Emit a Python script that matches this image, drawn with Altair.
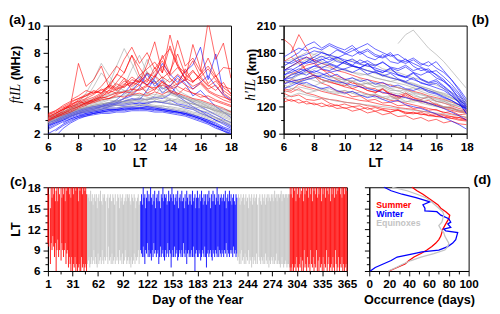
import altair as alt
import pandas as pd

# ---------------- shared local-time grid (half-hourly) ----------------
LT = [6.0, 6.5, 7.0, 7.5, 8.0, 8.5, 9.0, 9.5, 10.0, 10.5, 11.0, 11.5, 12.0,
      12.5, 13.0, 13.5, 14.0, 14.5, 15.0, 15.5, 16.0, 16.5, 17.0, 17.5, 18.0]
N = None

# ---------------- panel (a): ftIL (MHz) ----------------
A_RED = [
    [3.2,3.4,3.6,3.9,4.1,4.3,4.4,4.6,4.8,5.0,5.1,5.3,5.2,5.5,5.4,5.6,5.3,5.5,5.2,5.0,4.9,4.6,4.4,4.2,4.0],
    [3.0,3.3,3.7,4.2,7.2,5.5,6.0,7.0,5.4,6.4,6.1,5.2,5.6,5.0,5.3,5.8,5.1,4.9,5.4,5.0,4.7,4.8,4.5,4.3,4.1],
    [N,3.5,3.8,4.0,4.3,4.5,4.7,5.0,5.6,6.3,7.5,8.4,7.2,8.0,6.8,7.6,8.3,7.0,6.5,7.4,6.2,6.8,6.0,5.5,5.3],
    [3.4,3.6,3.9,4.1,4.4,4.2,4.6,4.9,5.2,5.0,5.6,6.2,5.8,7.1,8.8,6.5,9.3,7.2,6.0,8.6,6.8,5.7,6.3,5.0,4.6],
    [N,N,3.9,4.2,4.4,4.6,4.9,5.3,5.0,5.7,5.4,6.0,5.8,6.5,6.2,7.8,6.4,8.9,7.0,7.6,6.6,10.3,7.5,8.7,6.1],
    [3.1,3.3,3.5,3.8,4.0,4.2,4.3,4.5,4.6,4.8,4.7,4.9,5.0,4.8,5.1,4.9,5.2,5.0,4.8,4.6,4.5,4.3,4.1,3.9,3.6],
    [N,N,N,4.5,4.8,5.2,5.0,5.5,6.2,7.0,6.5,7.8,6.9,6.0,6.6,7.4,6.3,6.9,6.1,5.8,6.4,7.0,6.2,6.9,6.8],
    [3.3,3.5,3.8,4.0,4.2,4.4,4.5,4.7,4.6,4.9,5.1,5.0,5.3,5.6,5.2,5.9,5.4,5.7,6.0,5.5,5.8,5.2,4.9,4.7,4.5],
    [3.0,3.2,3.4,3.6,3.9,4.1,4.4,4.7,5.2,5.8,6.5,7.8,6.3,6.8,7.3,6.5,8.5,7.0,6.1,6.7,5.9,5.3,5.6,4.8,4.4],
    [3.5,3.7,4.0,4.3,4.6,4.8,5.0,5.2,5.5,5.3,5.9,5.6,6.3,5.8,6.9,6.1,6.6,7.9,6.4,5.9,6.2,5.6,5.2,5.8,4.9],
    [3.2,3.5,3.8,4.1,4.5,4.8,5.2,5.0,5.6,5.4,6.1,5.7,6.0,5.6,6.3,5.8,5.5,6.1,5.6,5.3,5.7,5.1,4.8,4.5,4.3],
    [2.9,3.2,3.5,3.7,4.0,4.3,4.5,4.8,5.0,5.3,5.5,5.8,5.6,6.0,5.7,6.2,5.8,6.4,5.9,6.6,6.1,5.5,5.9,5.2,4.8],
    [3.4,3.7,4.1,4.4,4.6,4.9,5.1,5.0,5.4,5.2,5.7,5.5,5.9,5.6,6.2,7.0,6.1,5.6,6.8,5.8,6.4,7.6,6.3,5.4,5.0],
]
A_GRAY = [
    [3.0,3.2,3.4,3.6,3.8,3.9,4.0,4.1,4.2,4.2,4.3,4.3,4.4,4.3,4.4,4.3,4.2,4.1,4.0,3.9,3.7,3.6,3.4,3.2,3.0],
    [2.9,3.1,3.3,3.5,3.7,3.8,3.9,4.0,4.1,4.1,4.2,4.2,4.1,4.2,4.1,4.0,4.0,3.9,3.8,3.6,3.5,3.3,3.2,3.0,2.8],
    [3.1,3.4,3.6,3.9,4.2,4.6,5.5,6.5,5.8,5.2,5.0,4.8,4.9,4.7,4.6,4.8,4.5,4.4,4.3,4.2,4.0,3.9,3.7,3.5,3.3],
    [3.2,3.3,3.6,3.8,4.0,4.3,4.5,4.8,5.6,7.0,8.3,7.2,6.0,7.5,6.3,5.4,5.0,4.8,4.6,4.4,4.2,4.0,3.8,3.6,3.4],
    [2.8,3.0,3.2,3.4,3.6,3.7,3.8,3.9,4.0,4.1,4.0,4.1,4.2,4.1,4.0,4.1,3.9,3.8,3.7,3.5,3.4,3.2,3.1,2.9,2.7],
    [3.0,3.3,3.5,3.7,3.9,4.1,4.2,4.3,4.5,4.4,4.6,4.5,4.7,4.5,4.6,4.4,4.5,4.3,4.2,4.0,3.9,3.7,3.5,3.3,3.1],
    [N,3.2,3.5,3.8,4.0,4.2,4.4,4.6,4.8,5.1,5.5,6.8,7.8,6.5,5.7,6.2,5.1,4.8,4.6,4.3,4.1,3.9,3.6,3.4,3.2],
    [3.1,3.3,3.5,3.7,3.8,4.0,4.1,4.2,4.3,4.4,4.4,4.5,4.4,4.6,4.5,4.7,4.4,4.6,4.3,4.2,4.0,3.9,3.7,3.5,3.4],
    [2.9,3.1,3.4,3.6,3.8,4.0,4.1,4.2,4.3,4.5,4.3,4.4,4.6,4.5,4.8,5.6,6.1,5.2,4.9,4.6,4.3,4.0,3.8,3.6,3.5],
    [3.2,3.4,3.7,3.9,4.1,4.3,4.4,4.5,4.6,4.7,4.8,4.9,4.8,5.0,4.9,4.8,4.9,4.7,4.6,4.4,4.3,4.1,3.9,3.7,3.6],
    [3.3,3.5,3.8,4.0,4.2,4.4,4.6,4.7,4.9,5.0,5.2,5.1,5.3,5.2,5.4,5.1,5.0,4.9,4.7,4.5,4.4,4.2,4.0,3.8,3.7],
    [2.7,2.9,3.1,3.3,3.5,3.6,3.7,3.8,3.9,3.9,4.0,4.0,4.0,4.1,4.0,3.9,3.8,3.7,3.6,3.4,3.3,3.1,2.9,2.8,2.6],
    [3.0,3.2,3.5,3.8,4.3,5.0,6.0,7.2,6.3,5.5,5.2,5.0,4.8,4.9,4.7,4.8,4.6,4.5,4.4,4.2,4.1,3.9,3.7,3.6,3.4],
    [3.1,3.3,3.6,3.8,4.0,4.2,4.3,4.4,4.6,4.7,4.9,5.3,6.0,6.6,5.8,5.4,5.2,5.0,4.7,4.5,4.4,4.2,4.0,3.8,3.6],
    [2.8,3.1,3.3,3.6,3.8,3.9,4.1,4.2,4.3,4.3,4.4,4.4,4.5,4.4,4.3,4.4,4.3,4.1,4.0,3.8,3.6,3.4,3.2,3.0,2.9],
]
A_BLUE = [
    [2.3,2.6,2.9,3.1,3.3,3.4,3.5,3.6,3.6,3.7,3.7,3.8,3.8,3.8,3.7,3.7,3.6,3.5,3.4,3.2,3.0,2.8,2.6,2.4,2.1],
    [N,2.2,2.6,2.9,3.2,3.4,3.5,3.6,3.7,3.7,3.8,3.8,3.9,3.8,3.8,3.7,3.6,3.6,3.4,3.3,3.1,2.9,2.6,2.3,N],
    [2.6,2.9,3.1,3.3,3.5,3.6,3.7,3.8,3.9,3.9,4.0,4.0,4.1,4.0,4.0,3.9,3.8,3.7,3.6,3.4,3.2,3.0,2.8,2.5,2.3],
    [2.8,3.0,3.2,3.4,3.6,3.8,3.9,4.0,4.1,4.3,4.6,5.2,5.8,6.4,5.5,6.0,5.1,4.8,4.4,4.0,3.7,3.3,3.0,2.7,2.4],
    [2.5,2.8,3.0,3.3,3.5,3.6,3.7,3.8,4.0,4.2,4.4,4.6,4.5,5.2,6.1,7.2,6.4,5.8,6.6,7.1,8.4,6.0,7.9,5.0,N],
    [2.9,3.1,3.3,3.5,3.7,3.8,3.9,4.0,4.1,4.2,4.2,4.3,4.2,4.3,4.4,4.3,4.5,4.2,4.1,3.9,3.7,3.5,3.2,2.9,2.6],
    [N,N,2.8,3.1,3.3,3.5,3.6,3.7,3.8,3.8,3.9,3.9,3.9,3.9,3.8,3.8,3.7,3.6,3.5,3.3,3.1,2.8,2.5,2.2,1.9],
    [2.7,2.9,3.2,3.4,3.6,3.7,3.8,4.0,4.2,4.5,5.0,5.7,6.2,5.6,5.9,5.0,5.5,6.3,5.7,4.8,5.2,4.6,4.0,3.6,3.2],
    [3.0,3.2,3.4,3.6,3.8,3.9,4.0,4.1,4.2,4.3,4.4,4.5,4.6,4.5,4.7,4.6,4.9,5.6,6.0,5.3,5.8,6.3,5.5,4.9,4.5],
    [2.4,2.7,3.0,3.2,3.4,3.5,3.6,3.7,3.8,3.8,3.9,3.9,3.9,4.0,3.9,3.8,3.7,3.6,3.5,3.4,3.2,3.0,2.7,2.4,2.2],
    [2.0,2.3,2.7,3.0,3.2,3.3,3.4,3.5,3.5,3.6,3.6,3.7,3.7,3.7,3.6,3.6,3.5,3.4,3.3,3.1,2.9,2.7,2.4,2.2,2.0],
    [2.6,2.8,3.1,3.3,3.5,3.7,3.8,3.9,4.0,4.1,4.1,4.2,4.3,4.2,4.4,4.3,4.2,4.1,3.9,3.8,3.5,3.3,3.0,2.8,2.5],
    [N,1.8,2.4,2.8,3.1,3.3,3.5,3.6,3.7,3.8,3.8,3.9,3.9,3.9,3.9,3.8,3.7,3.6,3.5,3.3,3.1,2.9,2.6,2.3,2.0],
    [2.8,3.0,3.3,3.5,3.7,3.9,4.0,4.1,4.3,4.4,4.6,4.8,5.4,6.5,5.9,5.3,5.6,4.9,4.6,4.3,4.0,3.7,3.4,3.1,2.8],
]

# ---------------- panel (b): h'IL (km) ----------------
B_RED = [
    [135,131,133,128,127,129,124,121,123,120,121,117,119,116,114,117,113,112,114,110,111,108,109,106,105],
    [195,188,172,160,154,146,143,137,136,131,132,127,128,124,125,121,122,118,119,116,117,113,115,111,112],
    [150,156,160,166,168,161,159,154,151,146,145,141,140,135,135,131,131,127,127,123,123,119,119,115,114],
    [140,138,145,142,140,137,135,133,131,129,127,126,124,122,121,119,118,117,115,114,112,111,109,108,106],
    [N,180,200,185,170,162,155,150,146,140,137,134,132,130,127,126,124,122,120,118,116,114,112,110,108],
    [145,150,148,152,155,150,147,145,143,148,142,138,136,140,134,130,133,128,125,127,122,120,118,116,115],
    [130,126,128,123,124,120,122,118,119,115,117,113,115,111,113,109,110,106,108,104,106,102,104,101,100],
    [160,165,170,175,172,168,165,160,158,155,152,150,148,146,144,141,139,137,135,132,130,128,125,122,120],
    [138,136,140,135,133,130,128,127,125,124,123,121,120,118,117,116,114,113,112,110,109,108,107,105,104],
    [N,N,N,N,N,N,N,N,N,N,N,N,135,140,132,128,135,130,126,124,121,118,116,114,113],
    [125,128,124,126,122,124,120,122,118,120,117,119,115,117,114,116,112,114,111,112,109,110,107,108,105],
    [170,175,168,160,155,150,148,145,142,140,143,138,136,139,134,132,135,130,128,131,126,124,121,118,116],
]
B_GRAY = [
    [150,156,158,162,157,156,152,152,149,149,145,146,142,142,138,138,134,134,130,130,126,126,122,122,118],
    [140,145,150,152,149,146,150,147,144,142,145,141,138,140,136,134,137,132,130,128,126,124,122,120,118],
    [160,165,168,172,175,170,167,172,168,165,162,160,157,154,152,150,147,145,142,140,137,135,132,128,125],
    [145,140,138,135,137,139,136,134,138,135,132,134,130,128,131,127,125,128,124,122,120,119,117,115,112],
    [N,150,160,170,178,182,176,172,168,165,163,160,158,156,153,150,148,146,143,140,137,134,130,126,122],
    [155,152,148,145,143,147,150,146,148,152,149,145,147,143,140,142,138,136,134,131,129,127,125,122,120],
    [150,147,147,143,143,139,140,137,138,135,136,133,134,131,132,129,130,127,128,124,124,120,120,116,116],
    [165,170,175,173,170,168,166,163,160,158,157,155,152,150,148,146,144,141,139,137,135,132,129,126,123],
    [N,N,N,N,N,N,N,N,N,N,N,N,N,N,N,190,200,205,195,185,178,170,160,150,140],
    [130,132,135,133,131,129,128,126,125,124,123,122,121,120,119,118,117,116,115,114,113,112,111,110,108],
    [145,150,155,158,162,165,163,160,162,158,155,156,152,150,148,150,146,143,141,138,136,133,130,127,124],
    [135,140,142,140,138,141,137,136,134,137,133,131,134,130,128,130,126,125,127,123,121,120,118,116,114],
    [170,172,176,180,178,175,178,174,170,172,168,165,167,162,160,158,155,152,150,147,144,140,136,131,127],
    [150,145,148,150,153,150,147,150,146,148,144,146,142,144,140,137,139,135,133,131,128,126,123,120,118],
    [160,158,155,158,155,152,155,151,150,148,151,147,145,143,145,141,139,141,137,134,132,129,126,123,120],
]
B_BLUE = [
    [165,170,175,178,182,180,177,183,179,176,181,175,172,178,170,168,173,165,160,162,155,148,140,130,118],
    [155,160,165,170,168,172,175,170,168,165,163,167,161,158,162,156,153,158,151,147,150,143,136,128,120],
    [N,175,180,188,192,185,190,186,183,188,180,184,178,175,180,172,170,174,168,165,170,160,150,138,125],
    [160,162,158,155,160,157,153,156,150,152,148,150,145,147,142,144,140,138,141,136,134,130,127,122,118],
    [150,155,158,162,165,168,170,174,178,182,186,190,184,180,176,178,172,168,164,160,156,150,140,128,115],
    [145,148,150,152,155,153,150,148,146,144,142,140,138,136,134,132,130,128,126,124,121,118,114,110,105],
    [N,N,165,170,175,180,177,175,172,170,167,165,163,160,158,155,153,150,147,144,141,138,132,125,118],
    [170,168,172,175,170,173,168,165,170,166,163,168,160,158,163,155,152,157,150,146,148,142,135,125,112],
    [140,143,147,150,152,155,158,160,162,165,163,160,158,155,152,150,147,144,141,138,135,131,127,122,117],
    [150,148,145,147,143,140,142,138,135,137,133,130,132,128,125,127,122,120,118,115,112,108,104,100,95],
    [175,180,185,182,186,183,188,184,180,185,178,182,176,174,178,171,168,172,166,170,163,158,150,140,128],
    [160,165,170,168,172,176,172,175,170,173,168,171,166,169,164,162,166,160,163,158,160,153,145,135,122],
    [150,152,156,160,158,162,160,164,161,158,162,156,159,154,157,151,148,152,146,144,146,140,133,124,112],
    [155,158,162,160,165,163,167,164,170,166,172,168,165,170,163,160,164,158,155,159,152,148,142,133,120],
]

# ---------------- panel (c): daily LT span of IL occurrence ----------------
SEASON_SPANS = [("Summer", 1, 48), ("Equinoxes", 49, 113), ("Winter", 114, 231),
                ("Equinoxes", 232, 295), ("Summer", 296, 365)]
C_START = [
    # Summer, days 1-48
    10,9.5,N,7,10,9,11,9.5,8,10,  6,9,10.5,8,9,N,7.5,10,9,8,
    9,10,7,8.5,9,6.5,8,7,6,8,     6,7,6.5,8,6,7,6,6.5,7,6,
    6,8,6.5,7,6,6.5,7,6,
    # Equinoxes, days 49-113
    7,7.5,8,6.5,7,8,7,7.5,9,7,    8,7,6.5,8.5,7,7.5,8,7,9,7.5,
    7,8,7.5,N,8,7,9.5,7.5,8,7,    8.5,7,7.5,8,7,N,7.5,8,7,9,
    7.5,8,7,8.5,7,7.5,9,8,7,7.5,  8,7,7.5,6.5,8,7,7.5,8.5,7,8,
    7.5,8,9,7,8,
    # Winter, days 114-231
    9,8.5,8,9.5,8,7,9,8.5,10,8,   9,8,8.5,7.5,9,8,10,8.5,9,8,
    8.5,9,7,8,9.5,8,8.5,9,8,7.5,  9,8,8.5,10,8,9,8.5,6.5,8,9,
    8,9.5,8,8.5,9,7.5,8,9,8.5,8,  9,8,10,8.5,8,9,7,8.5,9,8,
    8.5,8,9,8,9.5,8,6,8.5,9,8,    8,9,8.5,7.5,8,9,8.5,8,9.5,8,
    6.5,8.5,9,8,8.5,9,8,7.5,9,8.5, 8,9,8.5,8,9.5,8,9,8.5,8,9,
    8.5,8,9,8.5,10,8,9,8.5,8,9,   8.5,9,8,9.5,8.5,9,8,8.5,
    # Equinoxes, days 232-295
    7.5,8,7,8.5,7,9,7.5,8,7,8.5,  7,8,7.5,9,7,8,7.5,6.5,8,7,
    8,7.5,7,8.5,7,N,8,7.5,7,8,    7.5,7,8,7,8.5,7.5,7,8,6.5,7.5,
    7,8,7.5,7,8,7,7.5,8.5,7,7,    7.5,7,6.5,7,8,7,6.5,7,7.5,7,
    6.5,7,7,6.5,
    # Summer, days 296-365
    6,6.5,6,7,6,6.5,7,6,8,6.5,    6,7,6.5,8,6,7.5,6,9,6.5,7,
    6,8,6.5,7,6,9,7,6.5,8,6,      7,6.5,9,6,7.5,6,8,6.5,7,6,
    8,6,7,6.5,9,6,7,8,6,6.5,      7,6,8,6.5,6,9,7,6,6.5,8,
    6,7,6.5,8,6,7,6,6.5,7,6,
]
C_END = [
    18,17,N,15,18,16.5,18,17,18,16,  17.5,18,16,18,17,N,18,16.5,18,17,
    18,16,18,17.5,18,18,17,18,16.5,18, 18,17,18,18,17.5,18,18,16,18,17.5,
    18,18,17,18,18,17.5,18,17,
    17,16.5,17,16,17.5,16,17,15.5,16.5,17, 16,17,15,16.5,17,16,17.5,16,15.5,17,
    16.5,17,16,N,16.5,17,15,16.5,17,16,    16,17,16.5,15.5,17,N,16,17,16.5,15,
    17,16,16.5,17,15.5,16,16.5,17,16,17,   16.5,17,16,15.5,17,16.5,16,17,16.5,15,
    16,16.5,17,15.5,16,
    16,17,15.5,18,16.5,17,15,16.5,17.5,16, 17,16,18,16.5,15.5,17,16,17.5,15,16.5,
    17,16,17.5,16,15,17,16.5,18,16,17,     16.5,17,15.5,16,17.5,16,17,16.5,18,16,
    17,15.5,16.5,17,16,17.5,15,16.5,17,16, 17.5,16,16.5,15,17,16,17.5,16.5,15.5,17,
    16,17,15.5,17.5,16,16.5,17,15,16.5,17.5, 16.5,15,17,16,17.5,16.5,15.5,17,16,17,
    15.5,17,16,17.5,16.5,15,17,16,17.5,16, 17,15.5,16.5,18,16,17,15.5,16.5,17,16,
    16.5,17,16,17.5,15,16.5,17,16,17.5,16, 17,15.5,16.5,17,16,15.5,17,16.5,
    16,17,16.5,15.5,17,16,16.5,17,15.5,16.5, 17,16,16.5,15,17,16.5,16,17,15.5,16.5,
    17,16,16.5,17,15.5,N,16.5,17,16,15.5,  17,16.5,16,17,15.5,16.5,17,16,17,16.5,
    16,17,16.5,17,16,17.5,16.5,17,16,17,   17,16.5,17,17.5,16,17,17,16.5,17,17,
    17,16.5,17,17,
    18,17,18,16.5,18,17.5,18,16,18,17,     18,16.5,18,17,17.5,18,16,18,17,18,
    17.5,18,16.5,18,18,17,18,16,18,17.5,   18,17,18,16.5,18,17,18,18,16,18,
    17,18,18,16.5,18,17.5,18,17,18,16,     18,17,18,18,16.5,18,17,18,17.5,18,
    18,17,18,16.5,18,18,17,18,18,17.5,
]

# ---------------- panel (d): occurrence (days) per LT ----------------
D_SUMMER_LT = LT
D_SUMMER = [20,28,36,40,45,52,58,63,67,70,72,73,74,76,78,80,81,77,72,69,64,59,54,48,43]
D_WINTER_LT = [6.0,6.5,7.0,7.5,8.0,8.5,8.75,9.0,9.5,10.0,10.5,11.0,11.5,11.75,12.0,
               12.25,12.75,13.0,13.5,14.0,14.5,14.6,15.0,15.5,15.9,16.5,17.0,17.5,18.0]
D_WINTER = [1,6,14,22,28,45,53,70,79,84,87,88,89,77,75,82,79,82,80,72,68,56,56,54,61,47,33,22,15]
D_EQUI_LT = LT
D_EQUI = [19,27,34,42,52,65,76,79,80,78,76,75,72,70,73,74,75,74,70,66,62,57,48,38,23]

LEGEND_LABELS = ["Summer", "Winter", "Equinoxes"]
LEGEND_OCC = [7, 7, 7]
LEGEND_LT = [15.5, 14.15, 12.8]

# ---------------- axis ticks ----------------
HOURS = [6, 7, 8, 9, 10, 11, 12, 13, 14, 15, 16, 17, 18]
HOURS_EVEN = [6, 8, 10, 12, 14, 16, 18]
HOURS_3 = [6, 9, 12, 15, 18]
FT_TICKS = [2, 3, 4, 5, 6, 7, 8, 9, 10]
FT_MAJOR = [2, 4, 6, 8, 10]
H_TICKS = [90, 105, 120, 135, 150, 165, 180, 195, 210]
H_MAJOR = [90, 120, 150, 180, 210]
DAY_MAJOR = [1, 31, 62, 92, 122, 153, 183, 213, 244, 274, 304, 335, 365]
DAY_MINOR = [16, 46.5, 77, 107, 137.5, 168, 198, 228.5, 259, 289, 319.5, 350]
OCC_TICKS = [0, 10, 20, 30, 40, 50, 60, 70, 80, 90, 100]
OCC_MAJOR = [0, 20, 40, 60, 80, 100]

RED, BLUE, GRAY_LINE, GRAY_BAR = "#ff0000", "#0000ff", "#a0a0a0", "#c4c4c4"


def tick_axis(values, major, show_labels=True, **kw):
    test = "indexof(%s, datum.value) >= 0" % str(list(major))
    args = dict(values=list(values),
                tickSize={"condition": {"test": test, "value": 5}, "value": 3},
                labels=show_labels)
    if show_labels:
        args["labelExpr"] = "%s ? datum.label : ''" % test
    args.update(kw)
    return alt.Axis(**args)


def lines_df(series, name):
    rows = []
    for i, vals in enumerate(series):
        for t, v in zip(LT, vals):
            if v is not None:
                rows.append({"lt": t, "v": v, "id": "%s%d" % (name, i)})
    return pd.DataFrame(rows)


def line_panel(groups, ydom, yticks, ymajor, unit, var, unit_y, var_y, title_x, title_params):
    x_enc = alt.X("lt:Q", scale=alt.Scale(domain=[6, 18], nice=False, zero=False),
                  axis=tick_axis(HOURS, HOURS_EVEN, title="LT", titlePadding=5))
    y_enc = alt.Y("v:Q", scale=alt.Scale(domain=ydom, nice=False, zero=False),
                  axis=tick_axis(yticks, ymajor, title=unit, titleX=title_x, titleY=unit_y,
                                 titleAngle=270, titleBaseline="bottom", titleAlign="center"))
    layers = []
    for series, name, color in groups:
        layers.append(
            alt.Chart(lines_df(series, name)).mark_line(
                stroke=color, strokeWidth=0.8, opacity=0.75, clip=True
            ).encode(x=x_enc, y=y_enc, detail="id:N")
        )
    italic = alt.Chart(pd.DataFrame({"t": [var]})).mark_text(
        angle=270, baseline="bottom", align="center", font="Liberation Serif",
        fontStyle="italic", fontSize=14, color="black"
    ).encode(text="t:N", x=alt.value(title_x), y=alt.value(var_y))
    layers.append(italic)
    return alt.layer(*layers).properties(width=188, height=111, title=title_params)


panel_a = line_panel(
    [(A_BLUE, "w", BLUE), (A_GRAY, "e", GRAY_LINE), (A_RED, "s", RED)],
    [2, 10], FT_TICKS, FT_MAJOR, "(MHz)", "ftIL", 38, 70, -26,
    alt.TitleParams("(a)", anchor="start", frame="bounds", fontSize=14, offset=-7),
)
panel_b = line_panel(
    [(B_RED, "s", RED), (B_GRAY, "e", GRAY_LINE), (B_BLUE, "w", BLUE)],
    [90, 210], H_TICKS, H_MAJOR, "(km)", "h'IL", 37, 66, -26,
    alt.TitleParams("(b)", anchor="end", frame="group", fontSize=14, offset=-7, dx=23),
)

# ---- panel (c)
c_rows = []
for season, d0, d1 in SEASON_SPANS:
    for day in range(d0, d1 + 1):
        s, e = C_START[day - 1], C_END[day - 1]
        if s is not None and e is not None:
            c_rows.append({"day": day, "start": s, "end": e, "season": season})
c_df = pd.DataFrame(c_rows)

season_scale_c = alt.Scale(domain=["Summer", "Winter", "Equinoxes"], range=[RED, BLUE, GRAY_BAR])
panel_c = alt.Chart(c_df).mark_rule(strokeWidth=0.9).encode(
    x=alt.X("day:Q", scale=alt.Scale(domain=[1, 365], nice=False, zero=False),
            axis=tick_axis(sorted(DAY_MAJOR + DAY_MINOR), DAY_MAJOR, title="Day of the Year",
                           titlePadding=4)),
    y=alt.Y("start:Q", scale=alt.Scale(domain=[6, 18], nice=False, zero=False),
            axis=tick_axis(HOURS, HOURS_3, title="LT", titleX=-26, titleY=43,
                           titleAngle=270, titleBaseline="bottom", titleAlign="center")),
    y2="end:Q",
    color=alt.Color("season:N", scale=season_scale_c, legend=None),
).properties(width=307, height=86,
             title=alt.TitleParams("(c)", anchor="start", frame="bounds", fontSize=14, offset=-8))

# ---- panel (d)
d_rows = []
for name, lts, occ in [("Summer", D_SUMMER_LT, D_SUMMER), ("Winter", D_WINTER_LT, D_WINTER),
                       ("Equinoxes", D_EQUI_LT, D_EQUI)]:
    for t, o in zip(lts, occ):
        d_rows.append({"season": name, "lt": t, "occ": o})
d_df = pd.DataFrame(d_rows)
season_scale_d = alt.Scale(domain=["Summer", "Winter", "Equinoxes"], range=[RED, BLUE, GRAY_LINE])

x_occ = alt.X("occ:Q", scale=alt.Scale(domain=[0, 100], nice=False, zero=False),
              axis=tick_axis(OCC_TICKS, OCC_MAJOR, title="Occurrence (days)", titlePadding=4))
y_lt = alt.Y("lt:Q", scale=alt.Scale(domain=[6, 18], nice=False, zero=False),
             axis=tick_axis(HOURS, HOURS_3, show_labels=False, title=""))

d_lines = alt.Chart(d_df).mark_line(strokeWidth=1.3).encode(
    x=x_occ, y=y_lt, order="lt:Q",
    color=alt.Color("season:N", scale=season_scale_d, legend=None),
)
d_legend = alt.Chart(pd.DataFrame({"season": LEGEND_LABELS, "occ": LEGEND_OCC, "lt": LEGEND_LT})).mark_text(
    align="left", baseline="middle", font="Liberation Sans", fontWeight="bold", fontSize=9
).encode(x=x_occ, y=y_lt, text="season:N",
         color=alt.Color("season:N", scale=season_scale_d, legend=None))

panel_d = alt.layer(d_lines, d_legend).properties(
    width=102, height=86,
    title=alt.TitleParams("(d)", anchor="end", frame="group", fontSize=14, offset=-2, dx=23))

chart = alt.vconcat(
    alt.hconcat(panel_a, panel_b, spacing=5),
    alt.hconcat(panel_c, panel_d, spacing=5),
    spacing=1,
).properties(padding=0).configure_view(
    stroke="black", strokeWidth=1
).configure_axis(
    labelFont="Liberation Sans", labelFontSize=12, labelFontWeight="bold", labelColor="black",
    titleFont="Liberation Sans", titleFontSize=13, titleFontWeight="bold", titleColor="black",
    tickColor="black", domainColor="black", labelPadding=3, titlePadding=3, grid=False,
    labelFlush=False, labelOverlap=False, tickWidth=1, domainWidth=1,
).configure_title(
    font="Liberation Sans", fontWeight="bold", color="black"
)

chart.save("out.html", embed_options={"renderer": "svg", "actions": False})
